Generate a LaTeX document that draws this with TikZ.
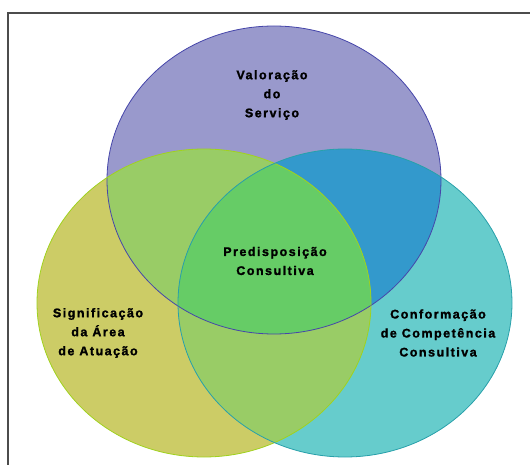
\documentclass[tikz,border=0pt]{standalone}
\usepackage{fontspec}
\setmainfont{Liberation Sans}
\definecolor{purp}{RGB}{153,153,204}
\definecolor{olive}{RGB}{204,204,102}
\definecolor{teal}{RGB}{102,204,204}
\definecolor{lgreen}{RGB}{153,204,102}
\definecolor{sblue}{RGB}{51,153,204}
\definecolor{mgreen}{RGB}{102,204,102}
\def\topell{(274,180) ellipse [x radius=167, y radius=154]}
\def\leftell{(204,303) ellipse [x radius=167, y radius=154]}
\def\rightell{(345,303) ellipse [x radius=167, y radius=154]}
\tikzset{%
	txt/.style   = {align=center, font=\bfseries\fontsize{12.5}{19}\selectfont\addfontfeatures{LetterSpace=12,FakeBold=1.5}},
	frame/.style = {draw=black!70, line width=1.6pt}
}

\begin{document}
\begin{tikzpicture}[x=1pt,y=-1pt]
			\useasboundingbox (0,0) rectangle (530,465);
			\draw[frame] (8,465) -- (8,13) -- (530,13);
			
			% the three sets
			\fill[purp]  \topell;
			\fill[olive] \leftell;
			\fill[teal]  \rightell;
			
			% overlaps
			\begin{scope}
				\clip \topell;
				\fill[lgreen] \leftell;
				\fill[sblue]  \rightell;
			\end{scope}
			\begin{scope}
				\clip \leftell;
				\fill[lgreen] \rightell;
				\clip \topell;
				\fill[mgreen] \rightell;
			\end{scope}
			
			\draw[line width=0.8pt, draw={rgb,255:red,70;green,70;blue,170}] \topell;
			\draw[line width=0.8pt, draw={rgb,255:red,160;green,210;blue,30}] \leftell;
			\draw[line width=0.8pt, draw={rgb,255:red,40;green,160;blue,170}] \rightell;
			
			\node[txt] (valor)  at (272,95)  {Valoração\\do\\Serviço};
			\node[txt] (predis) at (275,261) {Predisposição\\Consultiva};
			\node[txt] (signif) at (98,333)  {Significação\\da Área\\de Atuação};
			\node[txt] (conf)   at (438,333) {Conformação\\de Competência\\Consultiva};
		\end{tikzpicture}
\end{document}
